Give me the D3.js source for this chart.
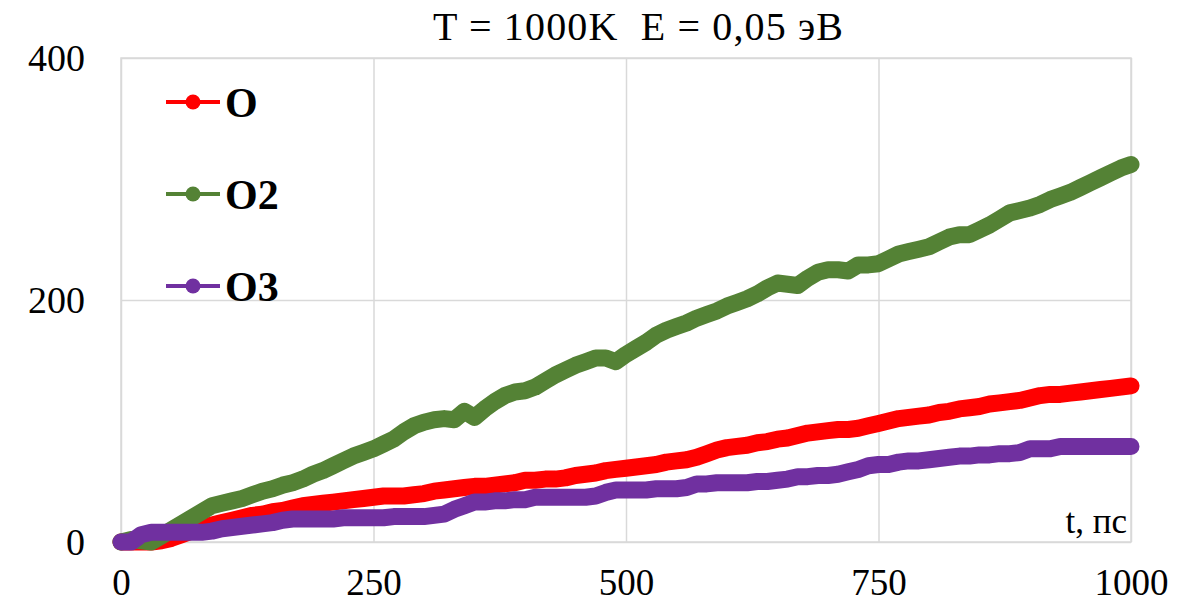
<!DOCTYPE html>
<html>
<head>
<meta charset="utf-8">
<script src="https://cdn.jsdelivr.net/npm/d3@7"></script>
<style>
  html, body { margin: 0; padding: 0; background: #fff; }
  svg { display: block; }
  svg text { font-family: "Liberation Serif", "Times New Roman", serif; white-space: pre; }
</style>
</head>
<body>
<svg id="chart" width="1188" height="603"></svg>
<script>
// Time grid, ps
const times = d3.range(0, 1001, 10);

// Series O
const seriesO = [
  0, 0, 0, 0, 1, 3, 6, 9, 12, 14,
  16, 18, 20, 22, 23, 25, 26, 28, 30, 31,
  32, 33, 34, 35, 36, 37, 38, 38, 38, 39,
  40, 42, 43, 44, 45, 46, 46, 47, 48, 49,
  51, 51, 52, 52, 53, 55, 56, 57, 59, 60,
  61, 62, 63, 64, 66, 67, 68, 70, 73, 76,
  78, 79, 80, 82, 83, 85, 86, 88, 90, 91,
  92, 93, 93, 94, 96, 98, 100, 102, 103, 104,
  105, 107, 108, 110, 111, 112, 114, 115, 116, 117,
  119, 121, 122, 122, 123, 124, 125, 126, 127, 128,
  129
];

// Series O2
const seriesO2 = [
  0, 2, 1, 0, 5, 10, 15, 20, 25, 30,
  32, 34, 36, 39, 42, 44, 47, 49, 52, 56,
  59, 63, 67, 71, 74, 77, 81, 85, 91, 96,
  99, 101, 102, 101, 108, 103, 110, 116, 121, 124,
  125, 128, 133, 138, 142, 146, 149, 152, 152, 149,
  155, 160, 165, 171, 175, 178, 181, 185, 188, 191,
  195, 198, 201, 205, 210, 214, 213, 212, 218, 223,
  225, 225, 224, 229, 229, 230, 234, 238, 240, 242,
  244, 248, 252, 254, 254, 258, 262, 267, 272, 274,
  276, 279, 283, 286, 289, 293, 297, 301, 305, 309,
  312
];

// Series O3
const seriesO3 = [
  0, 0, 6, 8, 8, 8, 8, 8, 8, 9,
  11, 12, 13, 14, 15, 16, 18, 19, 19, 19,
  19, 19, 20, 20, 20, 20, 20, 21, 21, 21,
  21, 22, 23, 27, 30, 33, 33, 34, 34, 35,
  35, 37, 37, 37, 37, 37, 37, 38, 41, 43,
  43, 43, 43, 44, 44, 44, 45, 48, 48, 49,
  49, 49, 49, 50, 50, 51, 52, 54, 54, 55,
  55, 56, 58, 60, 63, 64, 64, 66, 67, 67,
  68, 69, 70, 71, 71, 72, 72, 73, 73, 74,
  77, 77, 77, 79, 79, 79, 79, 79, 79, 79,
  79
];

const seriesNames = ["O", "O2", "O3"];
const seriesColors = ["#ff0000", "#548235", "#7030a0"];
const xTicks = [0, 250, 500, 750, 1000];
const yTicks = [0, 200, 400];
const titleText = "T = 1000K  E = 0,05 эВ";
const xAxisLabel = "t, пс";

const svg = d3.select("#chart");
const W = 1188, H = 603;
const margin = { left: 121, right: 57, top: 58, bottom: 61 };
const plotW = W - margin.left - margin.right;
const plotH = H - margin.top - margin.bottom;

const x = d3.scaleLinear().domain([0, 1000]).range([margin.left, margin.left + plotW]);
const y = d3.scaleLinear().domain([0, 400]).range([margin.top + plotH, margin.top]);

const serif = '"Liberation Serif", "Times New Roman", serif';
const gridColor = "#d9d9d9";

// Gridlines
const xAxisGrid = d3.axisBottom(x).tickValues(xTicks).tickSize(-plotH).tickFormat("");
svg.append("g")
  .attr("transform", `translate(0,${margin.top + plotH})`)
  .call(xAxisGrid)
  .call(g => g.select(".domain").remove())
  .call(g => g.selectAll("line").attr("stroke", gridColor).attr("stroke-width", 1.5));

const yAxisGrid = d3.axisLeft(y).tickValues(yTicks).tickSize(-plotW).tickFormat("");
svg.append("g")
  .attr("transform", `translate(${margin.left},0)`)
  .call(yAxisGrid)
  .call(g => g.select(".domain").remove())
  .call(g => g.selectAll("line").attr("stroke", gridColor).attr("stroke-width", 1.5));

// Plot frame
svg.append("rect")
  .attr("x", margin.left).attr("y", margin.top)
  .attr("width", plotW).attr("height", plotH)
  .attr("fill", "none").attr("stroke", gridColor).attr("stroke-width", 1.5);

// Tick labels
const xAxis = d3.axisBottom(x).tickValues(xTicks).tickSize(0).tickPadding(0).tickFormat(d3.format("d"));
svg.append("g")
  .attr("transform", `translate(0,${margin.top + plotH})`)
  .call(xAxis)
  .call(g => g.attr("font-family", null).attr("font-size", null))
  .call(g => g.select(".domain").remove())
  .call(g => g.selectAll("text")
    .attr("y", 53).attr("dy", null)
    .style("font-family", serif).style("font-size", "37px").attr("fill", "#000"));

const yAxis = d3.axisLeft(y).tickValues(yTicks).tickSize(0).tickPadding(0).tickFormat(d3.format("d"));
svg.append("g")
  .attr("transform", `translate(${margin.left},0)`)
  .call(yAxis)
  .call(g => g.attr("font-family", null).attr("font-size", null))
  .call(g => g.select(".domain").remove())
  .call(g => g.selectAll("text")
    .attr("x", -36).attr("dy", "0.34em")
    .style("font-family", serif).style("font-size", "38px").attr("fill", "#000"));

// Title
svg.append("text")
  .attr("x", 433).attr("y", 40)
  .attr("textLength", 410).attr("lengthAdjust", "spacing")
  .style("font-family", serif).style("font-size", "40px").attr("fill", "#000")
  .text(titleText);

// Axis label inside plot corner
svg.append("text")
  .attr("x", 1127).attr("y", 533)
  .attr("text-anchor", "end")
  .style("font-family", serif).style("font-size", "35px").attr("fill", "#000")
  .text(xAxisLabel);

// Series lines (dense markers form a thick band)
const allSeries = [seriesO, seriesO2, seriesO3];
const line = d3.line()
  .x((d, i) => x(times[i]))
  .y(d => y(d))
  .curve(d3.curveLinear);

allSeries.forEach((vals, k) => {
  svg.append("path")
    .datum(vals)
    .attr("d", line)
    .attr("fill", "none")
    .attr("stroke", seriesColors[k])
    .attr("stroke-width", 17)
    .attr("stroke-linejoin", "round")
    .attr("stroke-linecap", "round");
});

// Legend
const legendY = [102, 194, 286];
const legend = svg.append("g");
seriesNames.forEach((name, k) => {
  const gy = legendY[k];
  legend.append("line")
    .attr("x1", 166).attr("x2", 220)
    .attr("y1", gy).attr("y2", gy)
    .attr("stroke", seriesColors[k]).attr("stroke-width", 4);
  legend.append("circle")
    .attr("cx", 193).attr("cy", gy).attr("r", 7.5)
    .attr("fill", seriesColors[k]);
  legend.append("text")
    .attr("x", 225).attr("y", gy).attr("dy", "0.35em")
    .style("font-family", serif).style("font-weight", "bold")
    .style("font-size", "42px").attr("fill", "#000")
    .text(name);
});
</script>
</body>
</html>
